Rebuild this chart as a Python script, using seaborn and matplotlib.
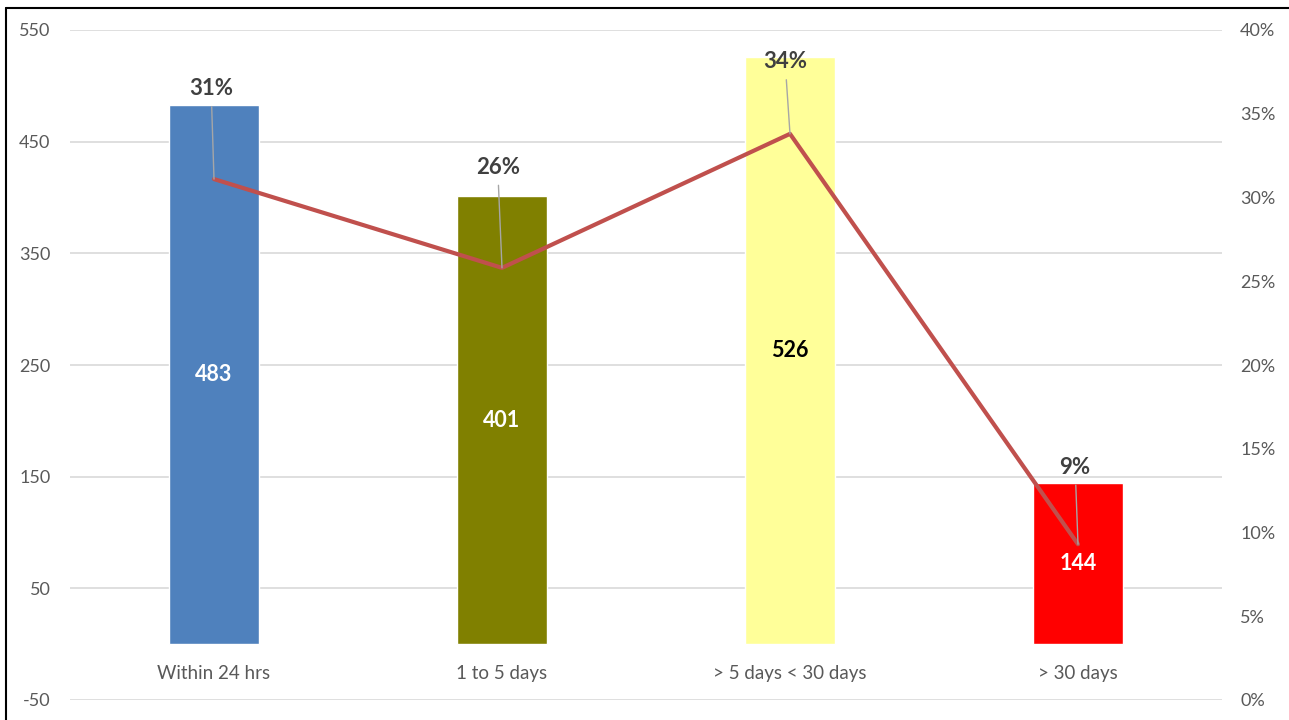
import numpy as np
import pandas as pd
import matplotlib.pyplot as plt
import seaborn as sns
from matplotlib.lines import Line2D

# values
categories = ["Within 24 hrs", "1 to 5 days", "> 5 days < 30 days", "> 30 days"]
counts = [483, 401, 526, 144]
shares = [31.1, 25.8, 33.8, 9.3]

bar_colors = ["#4F81BD", "#808000", "#FFFF99", "#FF0000"]
count_text_colors = ["white", "white", "black", "white"]
# where the percentage labels sit (right axis units) and small x shift
share_label_y = [36.5, 31.8, 38.1, 13.9]
share_label_dx = [-0.01, -0.015, -0.017, -0.01]

sns.set_style("white")
plt.rcParams["font.family"] = ["Lato", "DejaVu Sans"]
plt.rcParams["axes.unicode_minus"] = False

df = pd.DataFrame({"cat": categories, "count": counts, "share": shares,
                   "pos": np.arange(len(categories))})

fig = plt.figure(figsize=(12.89, 7.2), dpi=100)
ax = fig.add_axes([70 / 1289, 20 / 720, 1152 / 1289, 670 / 720])

sns.barplot(data=df, x="cat", y="count", hue="cat", palette=bar_colors,
            width=0.31, saturation=1, legend=False, ax=ax, zorder=2)

ax.set_ylim(-50, 550)
ax.set_yticks(range(-50, 551, 100))
ax.set_xlim(-0.5, len(categories) - 0.5)
ax.grid(axis="y", color="#D9D9D9", lw=1.2, zorder=0)
ax.set_axisbelow(True)
for s in ax.spines.values():
    s.set_visible(False)
ax.set_xlabel("")
ax.set_ylabel("")
ax.tick_params(axis="y", length=0, pad=14, labelsize=13, labelcolor="#595959")
ax.tick_params(axis="x", length=0, pad=-25, labelsize=13.5, labelcolor="#595959")

for i, (c, col) in enumerate(zip(counts, count_text_colors)):
    ax.text(i, c / 2, str(c), ha="center", va="center", fontsize=15.5,
            fontweight="bold", color=col, zorder=5)

ax2 = ax.twinx()
sns.lineplot(data=df, x="pos", y="share", color="#C0504D", lw=3, ax=ax2,
             zorder=3)
ax2.set_ylim(0, 40)
ax2.set_yticks(range(0, 41, 5))
ax2.set_yticklabels([f"{t}%" for t in range(0, 41, 5)])
ax2.set_xlim(-0.5, len(categories) - 0.5)
ax2.set_ylabel("")
ax2.set_xlabel("")
for s in ax2.spines.values():
    s.set_visible(False)
ax2.tick_params(axis="y", length=0, pad=13, labelsize=13, labelcolor="#595959")

for i, p in enumerate(shares):
    ax2.annotate(f"{p:.0f}%", xy=(i, p),
                 xytext=(i + share_label_dx[i], share_label_y[i]),
                 ha="center", va="center", fontsize=16, fontweight="bold",
                 color="#404040",
                 arrowprops=dict(arrowstyle="-", color="#A6A6A6", lw=1,
                                 shrinkA=3, shrinkB=0))

# outer frame
fig.add_artist(Line2D([6 / 1289, 6 / 1289], [0, 1 - 8 / 720],
                      transform=fig.transFigure, color="black", lw=1.5))
fig.add_artist(Line2D([6 / 1289, 1], [1 - 8 / 720, 1 - 8 / 720],
                      transform=fig.transFigure, color="black", lw=1.5))

fig.savefig("out.png", dpi=100)
